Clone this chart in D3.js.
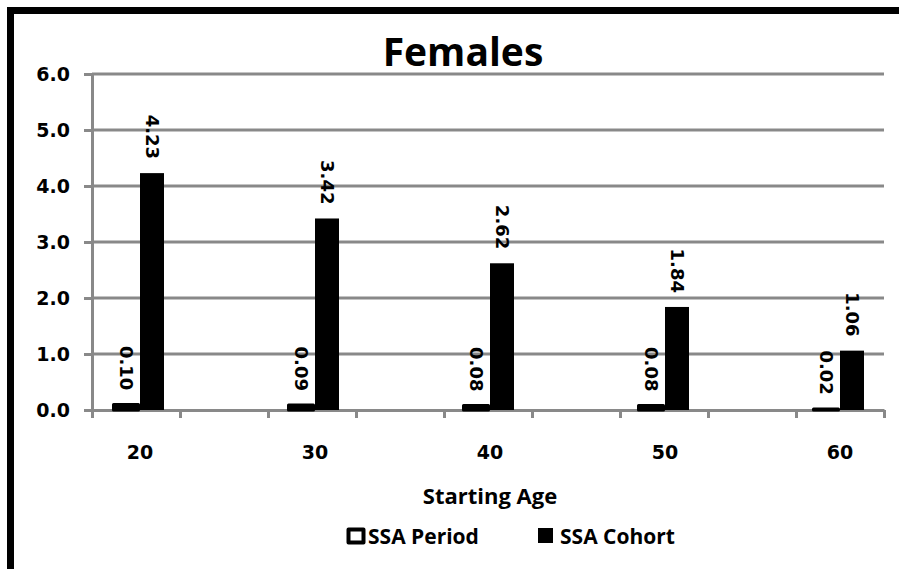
<!DOCTYPE html>
<html>
<head>
<meta charset="utf-8">
<script src="https://cdn.jsdelivr.net/npm/d3@7"></script>
<style>
  body { margin: 0; background: #fff; }
  svg { display: block; }
</style>
</head>
<body>
<div id="chart"></div>
<script>
const ages = ["20", "30", "40", "50", "60"];
const periodValues = [0.10, 0.09, 0.08, 0.08, 0.02];
const cohortValues = [4.23, 3.42, 2.62, 1.84, 1.06];
const yTicks = [0, 1, 2, 3, 4, 5, 6];
const seriesNames = ["SSA Period", "SSA Cohort"];

const W = 899, H = 569;
const plot = { left: 92, right: 884, top: 74, bottom: 410 };
const gridColor = "#898989";
const numFont = "'DejaVu Sans', sans-serif";
const textFont = "'Open Sans', sans-serif";

const svg = d3.select("#chart").append("svg")
    .attr("width", W)
    .attr("height", H);

svg.append("rect").attr("width", W).attr("height", H).attr("fill", "#fff");

// outer frame (only top and left edges fall inside the picture)
svg.append("rect")
    .attr("x", 10.5).attr("y", 10.5)
    .attr("width", 1200).attr("height", 1200)
    .attr("fill", "none")
    .attr("stroke", "#000")
    .attr("stroke-width", 7);

const y = d3.scaleLinear().domain([0, 6]).range([plot.bottom, plot.top]);
// group boundary between the two bars of each age
const x = d3.scaleLinear().domain([0, 4]).range([140, 840]);
const tickPos = d3.scaleLinear().domain([0, 9]).range([plot.left, plot.right]);

// gridlines
svg.append("g")
  .selectAll("line")
  .data(yTicks.filter(d => d > 0))
  .enter().append("line")
    .attr("x1", plot.left).attr("x2", plot.right)
    .attr("y1", d => y(d)).attr("y2", d => y(d))
    .attr("stroke", gridColor)
    .attr("stroke-width", 3);

// y axis
const yAxis = svg.append("g")
    .attr("transform", "translate(" + plot.left + ",0)")
    .call(d3.axisLeft(y).tickValues(yTicks).tickSize(8).tickPadding(14).tickFormat(d3.format(".1f")));
yAxis.select(".domain").attr("stroke", gridColor).attr("stroke-width", 3);
yAxis.selectAll(".tick line").attr("stroke", gridColor).attr("stroke-width", 3);
yAxis.selectAll(".tick text")
    .attr("font-family", numFont)
    .attr("font-weight", "bold")
    .attr("font-size", 19)
    .attr("fill", "#000");

// x axis (tick marks only)
const xAxis = svg.append("g")
    .attr("transform", "translate(0," + plot.bottom + ")")
    .call(d3.axisBottom(tickPos).tickValues(d3.range(10)).tickSize(8).tickSizeOuter(0).tickFormat(""));
xAxis.select(".domain").attr("stroke", gridColor).attr("stroke-width", 3);
xAxis.selectAll(".tick line").attr("stroke", gridColor).attr("stroke-width", 3);

// category labels
svg.append("g")
  .selectAll("text")
  .data(ages)
  .enter().append("text")
    .attr("x", (d, i) => x(i))
    .attr("y", 459)
    .attr("text-anchor", "middle")
    .attr("font-family", numFont)
    .attr("font-weight", "bold")
    .attr("font-size", 19)
    .text(d => d);

// bars (period bars are so short that the thick outline fills them)
const periodW = 25, cohortW = 24;
svg.append("g")
  .selectAll("rect")
  .data(periodValues)
  .enter().append("rect")
    .attr("x", (d, i) => x(i) - periodW - 1.5)
    .attr("y", d => y(d))
    .attr("width", periodW)
    .attr("height", d => y(0) - y(d))
    .attr("fill", "#000")
    .attr("stroke", "#000")
    .attr("stroke-width", 3)
    .attr("stroke-linejoin", "round");

svg.append("g")
  .selectAll("rect")
  .data(cohortValues)
  .enter().append("rect")
    .attr("x", (d, i) => x(i))
    .attr("y", d => y(d))
    .attr("width", cohortW)
    .attr("height", d => y(0) - y(d))
    .attr("fill", "#000");

// data labels, rotated
function addLabels(values, cx) {
  svg.append("g")
    .selectAll("text")
    .data(values)
    .enter().append("text")
      .attr("transform", (d, i) => "translate(" + cx(i) + "," + (y(d) - 14) + ") rotate(90)")
      .attr("text-anchor", "end")
      .attr("dy", "0.36em")
      .attr("font-family", numFont)
      .attr("font-weight", "bold")
      .attr("font-size", 18)
      .text(d => d.toFixed(2));
}
addLabels(periodValues, i => x(i) - periodW / 2 - 1.5);
addLabels(cohortValues, i => x(i) + cohortW / 2);

// title
svg.append("text")
    .attr("x", 463).attr("y", 66)
    .attr("text-anchor", "middle")
    .attr("font-family", textFont)
    .attr("font-weight", "bold")
    .attr("font-size", 39)
    .text("Females");

// axis title
svg.append("text")
    .attr("x", 490).attr("y", 504)
    .attr("text-anchor", "middle")
    .attr("font-family", textFont)
    .attr("font-weight", "bold")
    .attr("font-size", 22)
    .text("Starting Age");

// legend
const legend = svg.append("g");
legend.append("rect")
    .attr("x", 348.5).attr("y", 529.5)
    .attr("width", 15).attr("height", 13)
    .attr("fill", "#fff")
    .attr("stroke", "#000")
    .attr("stroke-width", 4)
    .attr("stroke-linejoin", "round");
legend.append("text")
    .attr("x", 368).attr("y", 544)
    .attr("font-family", textFont)
    .attr("font-weight", "bold")
    .attr("font-size", 21)
    .text(seriesNames[0]);
legend.append("rect")
    .attr("x", 538).attr("y", 528)
    .attr("width", 15).attr("height", 15)
    .attr("fill", "#000");
legend.append("text")
    .attr("x", 560).attr("y", 544)
    .attr("font-family", textFont)
    .attr("font-weight", "bold")
    .attr("font-size", 21)
    .text(seriesNames[1]);
</script>
</body>
</html>
